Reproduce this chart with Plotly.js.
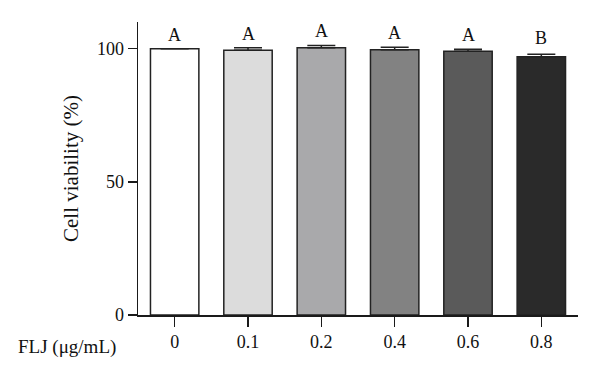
<!DOCTYPE html>
<html>
<head>
<meta charset="utf-8">
<script src="https://cdn.plot.ly/plotly-3.0.1.min.js"></script>
<style>html,body{margin:0;padding:0;background:#fff;}#chart{width:600px;height:375px;}</style>
</head>
<body>
<div id="chart"></div>
<script>
const categories = ["0", "0.1", "0.2", "0.4", "0.6", "0.8"];
const viability = [100, 99.4, 100.3, 99.6, 99.0, 97.0];
const errors = [0, 0.9, 0.9, 0.9, 0.8, 0.9];
const letters = ["A", "A", "A", "A", "A", "B"];
const barColors = ["#ffffff", "#dcdcdc", "#a9a9ab", "#828282", "#5a5a5a", "#2a2a2a"];
const yTicks = [0, 50, 100];

const font = {family: "Liberation Serif, Times New Roman, serif", color: "#111111"};

const trace = {
  type: "bar",
  x: categories,
  y: viability,
  marker: {color: barColors, line: {color: "#222222", width: 1.5}},
  error_y: {type: "data", array: errors, arrayminus: errors.map(() => 0), visible: true, color: "#222222", thickness: 1.5, width: 14},
  hoverinfo: "none"
};

const annotations = categories.map((c, i) => ({
  x: i, y: viability[i] + errors[i], xref: "x", yref: "y",
  text: letters[i], showarrow: false, yanchor: "bottom", yshift: letters[i] === "B" ? 4 : 2,
  font: Object.assign({}, font, {size: 18})
}));
annotations.push({
  xref: "paper", yref: "paper", x: -0.045, y: 0, xanchor: "right", yanchor: "middle",
  yshift: -32, text: "FLJ (μg/mL)", showarrow: false, font: Object.assign({}, font, {size: 19})
});

const layout = {
  width: 600, height: 375,
  margin: {l: 138, r: 22, t: 22, b: 60},
  paper_bgcolor: "#fff", plot_bgcolor: "#fff",
  font: font,
  showlegend: false,
  bargap: 0.34,
  xaxis: {
    type: "category", range: [-0.5, 5.5],
    showline: true, linecolor: "#1a1a1a", linewidth: 1.5,
    ticks: "outside", ticklen: 10, tickwidth: 1.5, tickcolor: "#1a1a1a",
    tickfont: Object.assign({}, font, {size: 18}),
    showgrid: false, zeroline: false, fixedrange: true
  },
  yaxis: {
    range: [0, 110], tickvals: yTicks,
    showline: true, linecolor: "#1a1a1a", linewidth: 1.5,
    ticks: "outside", ticklen: 9, tickwidth: 1.5, tickcolor: "#1a1a1a",
    tickfont: Object.assign({}, font, {size: 18}),
    showgrid: false, zeroline: false,
    title: {text: "Cell viability (%)", font: Object.assign({}, font, {size: 21}), standoff: 12}
  },
  annotations: annotations
};

Plotly.newPlot("chart", [trace], layout, {displayModeBar: false, staticPlot: true});
</script>
</body>
</html>
